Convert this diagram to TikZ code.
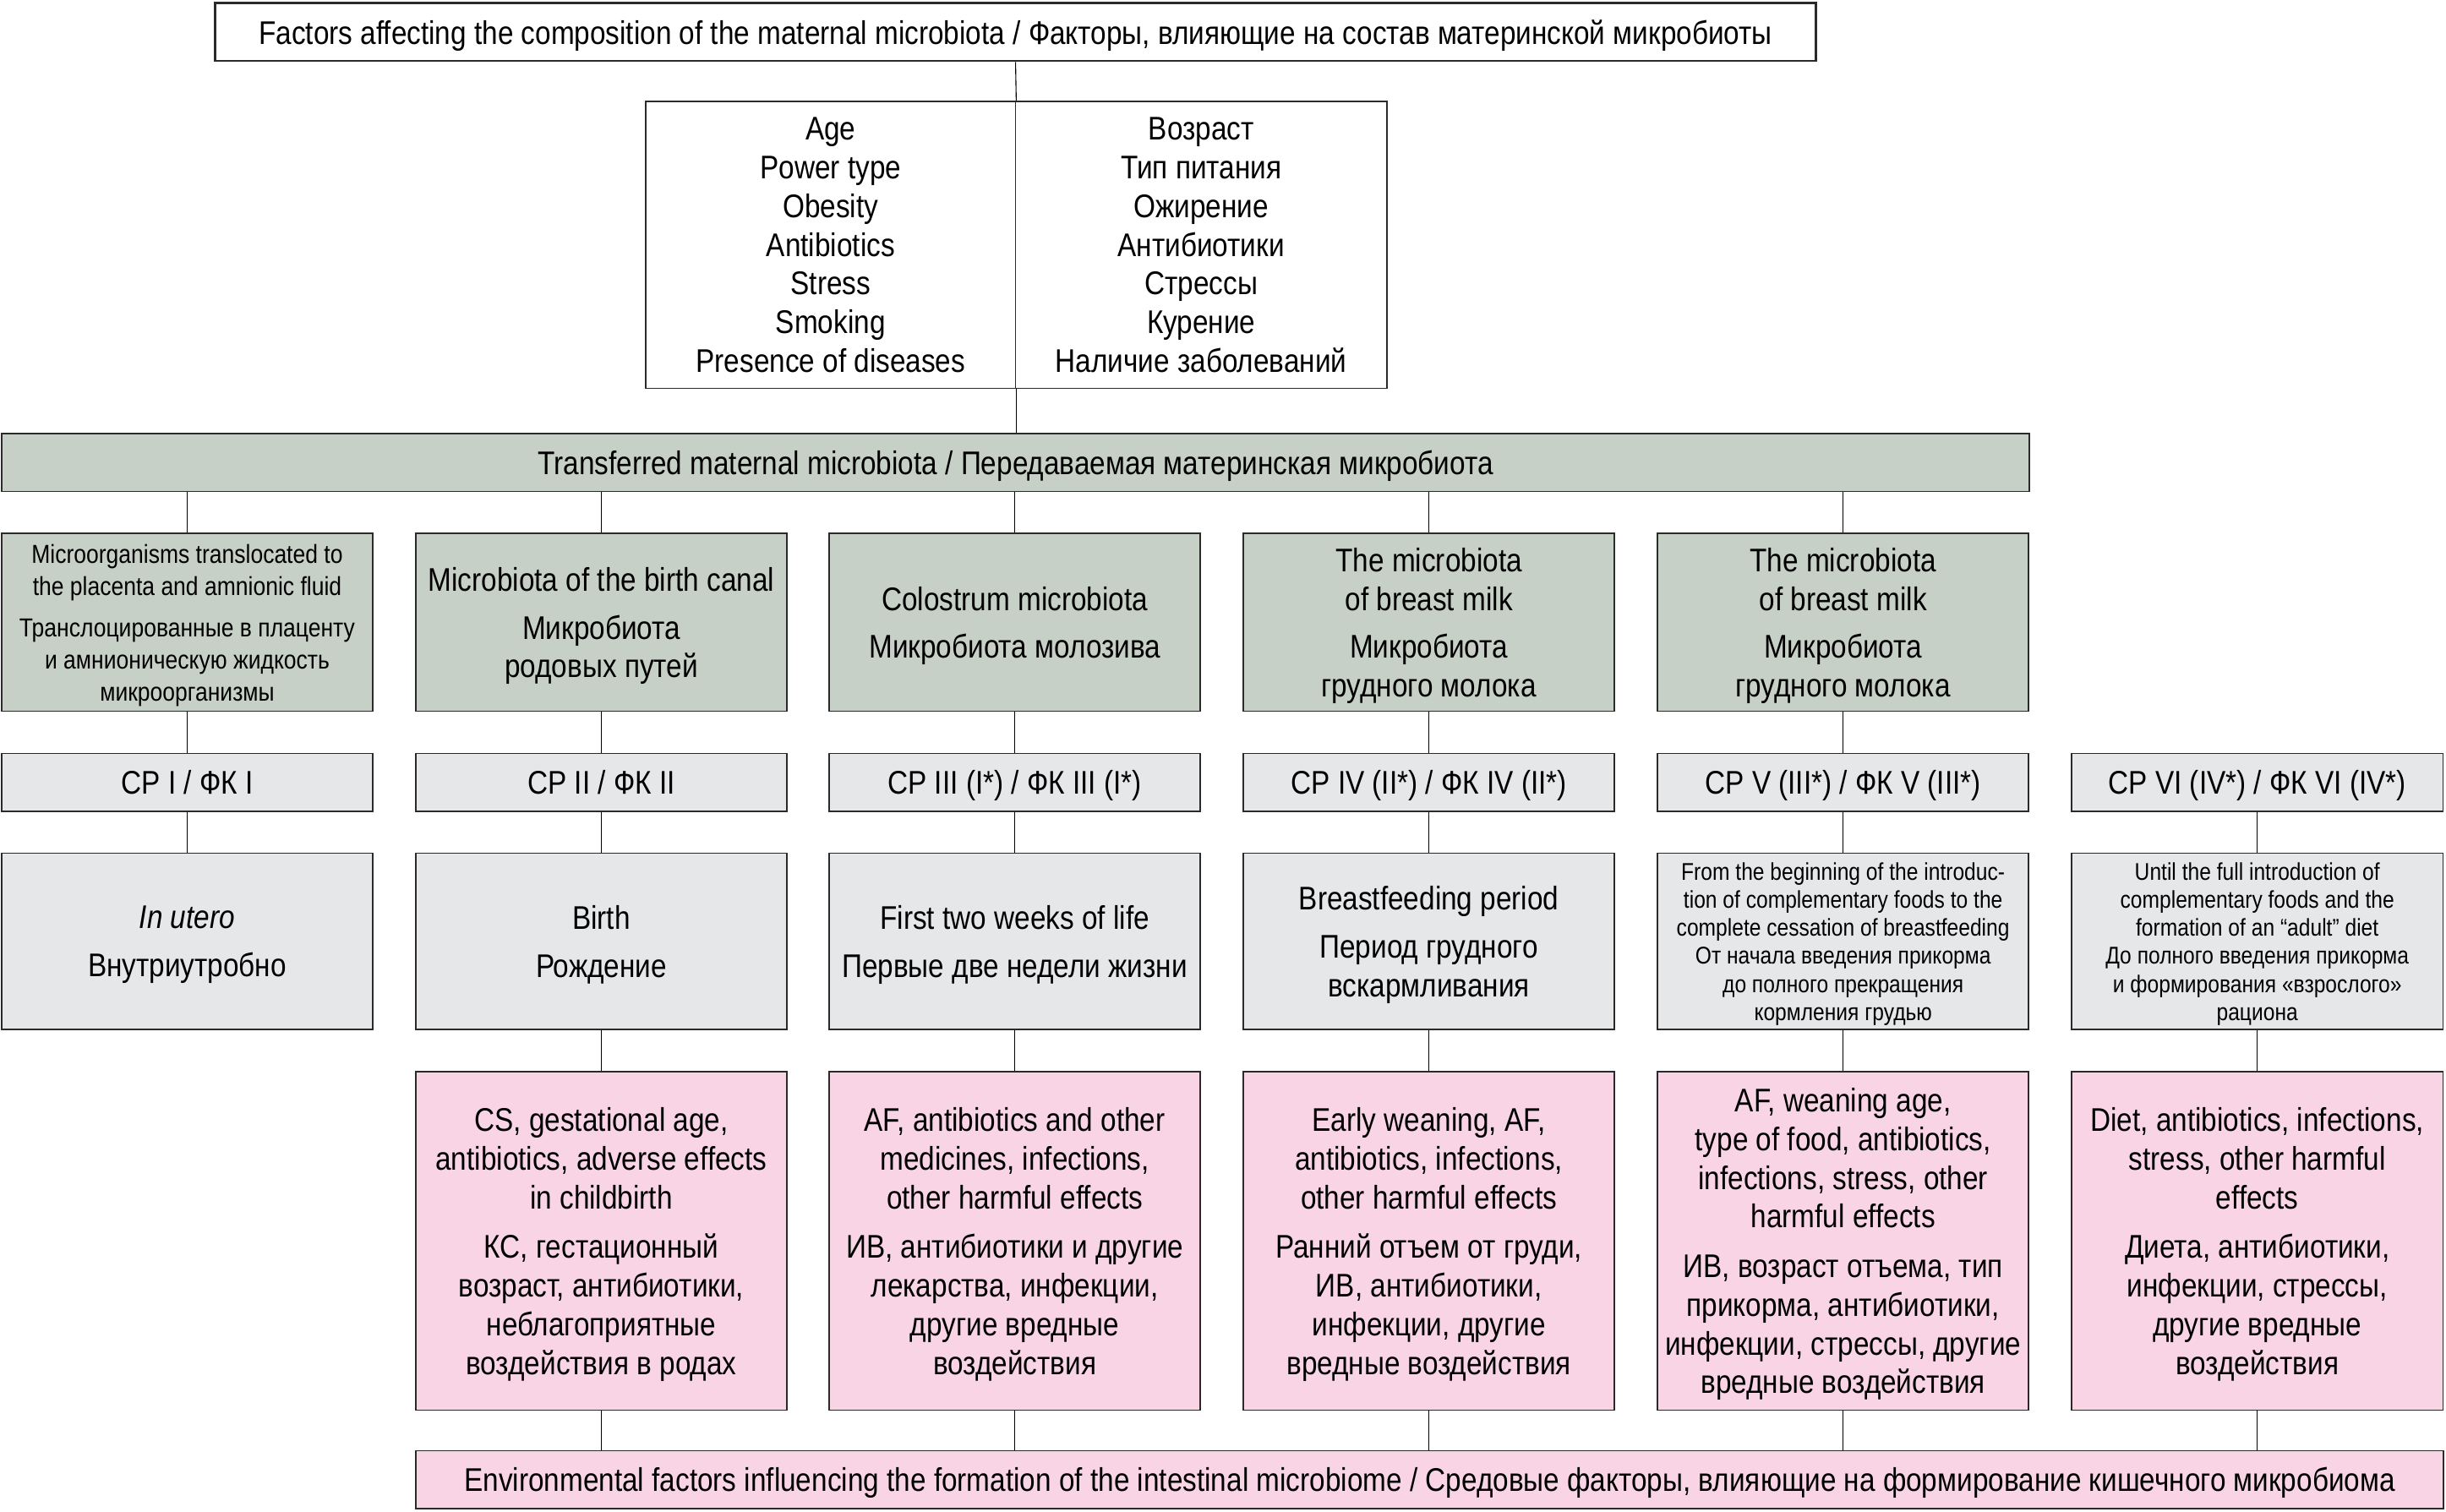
\documentclass[tikz,border=0pt]{standalone}
\usepackage{fontspec}
\setmainfont{Liberation Sans}[FakeStretch=0.86]
\definecolor{gfill}{HTML}{C6D0C6}
\definecolor{wfill}{HTML}{E6E7E9}
\definecolor{pfill}{HTML}{F8D4E4}
\definecolor{edge}{HTML}{2A2A2A}
\newcommand{\fbig}{\fontsize{21}{24.8}\selectfont}
\newcommand{\fmid}{\fontsize{16.7}{20.6}\selectfont}
\newcommand{\fsml}{\fontsize{15.5}{18}\selectfont}
\begin{document}
\begin{tikzpicture}[x=1pt,y=-1pt,
  box/.style={draw=edge, line width=0.9pt, align=center, inner sep=0pt, text depth=0pt, font=\fbig},
  gbox/.style={box, fill=gfill},
  wbox/.style={box, fill=wfill},
  pbox/.style={box, fill=pfill},
  conn/.style={draw=black, line width=0.6pt}]
\useasboundingbox (0,0) rectangle (1568,969);

% top
\node[box, fill=white, line width=1.4pt, minimum width=1026pt, minimum height=37pt] (top) at (651,20.5)
  {Factors affecting the composition of the maternal microbiota / Факторы, влияющие на состав материнской микробиоты};
\node[box, fill=white, minimum width=237pt, minimum height=184pt] (fl) at (532.5,157)
  {Age\\Power type\\Obesity\\Antibiotics\\Stress\\Smoking\\Presence of diseases};
\node[box, fill=white, minimum width=238pt, minimum height=184pt] (fr) at (770,157)
  {Возраст\\Тип питания\\Ожирение\\Антибиотики\\Стрессы\\Курение\\Наличие заболеваний};
\node[gbox, minimum width=1300pt, minimum height=37pt] (tr) at (651,296.5)
  {Transferred maternal microbiota / Передаваемая материнская микробиота};

% green row
\node[gbox, minimum width=238pt, minimum height=114pt, font=\fmid] (g1) at (120,399)
  {Microorganisms translocated to\\the placenta and amnionic fluid\\[6pt]Транслоцированные в плаценту\\и амнионическую жидкость\\микроорганизмы};
\node[gbox, minimum width=238pt, minimum height=114pt] (g2) at (385.5,399)
  {Microbiota of the birth canal\\[6pt]Микробиота\\родовых путей};
\node[gbox, minimum width=238pt, minimum height=114pt] (g3) at (650.5,399)
  {Colostrum microbiota\\[6pt]Микробиота молозива};
\node[gbox, minimum width=238pt, minimum height=114pt] (g4) at (916,399)
  {The microbiota\\of breast milk\\[6pt]Микробиота\\грудного молока};
\node[gbox, minimum width=238pt, minimum height=114pt] (g5) at (1181.5,399)
  {The microbiota\\of breast milk\\[6pt]Микробиота\\грудного молока};

% CP row
\node[wbox, minimum width=238pt, minimum height=37pt] (c1) at (120,501.5) {CP I / ФК I};
\node[wbox, minimum width=238pt, minimum height=37pt] (c2) at (385.5,501.5) {CP II / ФК II};
\node[wbox, minimum width=238pt, minimum height=37pt] (c3) at (650.5,501.5) {CP III (I*) / ФК III (I*)};
\node[wbox, minimum width=238pt, minimum height=37pt] (c4) at (916,501.5) {CP IV (II*) / ФК IV (II*)};
\node[wbox, minimum width=238pt, minimum height=37pt] (c5) at (1181.5,501.5) {CP V (III*) / ФК V (III*)};
\node[wbox, minimum width=238pt, minimum height=37pt] (c6) at (1447,501.5) {CP VI (IV*) / ФК VI (IV*)};

% period row
\node[wbox, minimum width=238pt, minimum height=113pt] (p1) at (120,603.5)
  {\textit{In utero}\\[6pt]Внутриутробно};
\node[wbox, minimum width=238pt, minimum height=113pt] (p2) at (385.5,603.5)
  {Birth\\[6pt]Рождение};
\node[wbox, minimum width=238pt, minimum height=113pt] (p3) at (650.5,603.5)
  {First two weeks of life\\[6pt]Первые две недели жизни};
\node[wbox, minimum width=238pt, minimum height=113pt] (p4) at (916,603.5)
  {Breastfeeding period\\[6pt]Период грудного\\вскармливания};
\node[wbox, minimum width=238pt, minimum height=113pt, font=\fsml] (p5) at (1181.5,603.5)
  {From the beginning of the introduc-\\tion of complementary foods to the\\complete cessation of breastfeeding\\От начала введения прикорма\\до полного прекращения\\кормления грудью};
\node[wbox, minimum width=238pt, minimum height=113pt, font=\fsml] (p6) at (1447,603.5)
  {Until the full introduction of\\complementary foods and the\\formation of an “adult” diet\\До полного введения прикорма\\и формирования «взрослого»\\рациона};

% pink row
\node[pbox, minimum width=238pt, minimum height=217pt] (k2) at (385.5,795.5)
  {CS, gestational age,\\antibiotics, adverse effects\\in childbirth\\[7pt]КС, гестационный\\возраст, антибиотики,\\неблагоприятные\\воздействия в родах};
\node[pbox, minimum width=238pt, minimum height=217pt] (k3) at (650.5,795.5)
  {AF, antibiotics and other\\medicines, infections,\\other harmful effects\\[7pt]ИВ, антибиотики и другие\\лекарства, инфекции,\\другие вредные\\воздействия};
\node[pbox, minimum width=238pt, minimum height=217pt] (k4) at (916,795.5)
  {Early weaning, AF,\\antibiotics, infections,\\other harmful effects\\[7pt]Ранний отъем от груди,\\ИВ, антибиотики,\\инфекции, другие\\вредные воздействия};
\node[pbox, minimum width=238pt, minimum height=217pt] (k5) at (1181.5,795.5)
  {AF, weaning age,\\type of food, antibiotics,\\infections, stress, other\\harmful effects\\[7pt]ИВ, возраст отъема, тип\\прикорма, антибиотики,\\инфекции, стрессы, другие\\вредные воздействия};
\node[pbox, minimum width=238pt, minimum height=217pt] (k6) at (1447,795.5)
  {Diet, antibiotics, infections,\\stress, other harmful\\effects\\[7pt]Диета, антибиотики,\\инфекции, стрессы,\\другие вредные\\воздействия};

\node[pbox, minimum width=1300pt, minimum height=37pt] (env) at (916.5,948.5)
  {Environmental factors influencing the formation of the intestinal microbiome / Средовые факторы, влияющие на формирование кишечного микробиома};

% connectors
\draw[conn] (top.south) -- (fl.north east);
\draw[conn] (fl.south east) -- (tr.north -| fl.south east);
\foreach \i in {1,...,5} {
  \draw[conn] (tr.south -| g\i.north) -- (g\i.north);
  \draw[conn] (g\i.south) -- (c\i.north);
}
\foreach \i in {1,...,6} {
  \draw[conn] (c\i.south) -- (p\i.north);
}
\foreach \i in {2,...,6} {
  \draw[conn] (p\i.south) -- (k\i.north);
  \draw[conn] (k\i.south) -- (env.north -| k\i.south);
}
\end{tikzpicture}
\end{document}
